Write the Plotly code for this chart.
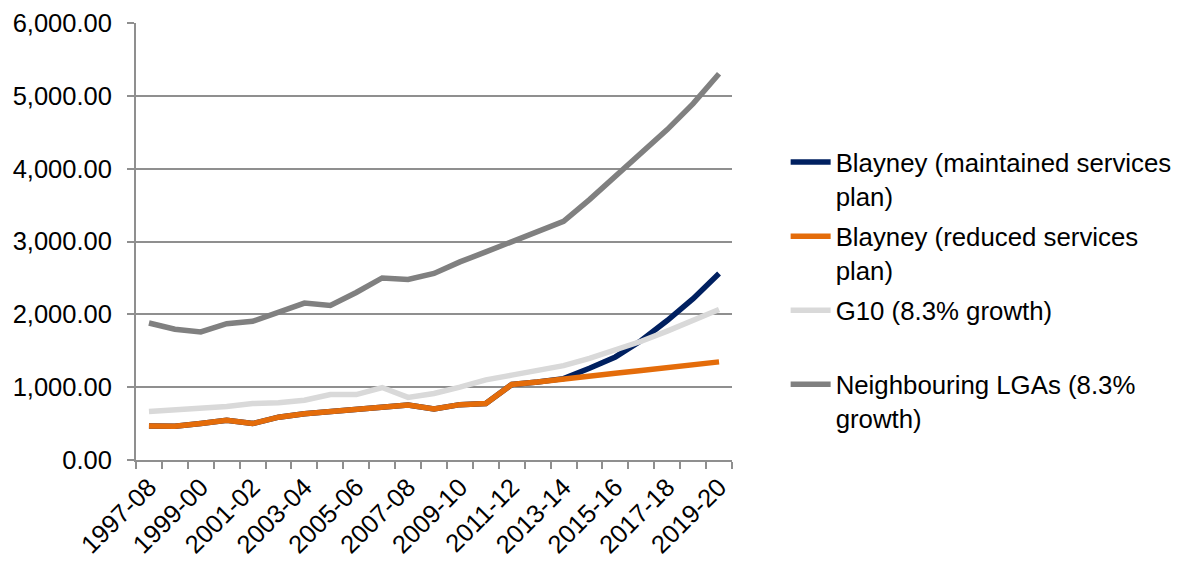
import plotly.graph_objects as go

categories = ["1997-08", "1998-99", "1999-00", "2000-01", "2001-02", "2002-03", "2003-04",
              "2004-05", "2005-06", "2006-07", "2007-08", "2008-09", "2009-10", "2010-11",
              "2011-12", "2012-13", "2013-14", "2014-15", "2015-16", "2016-17", "2017-18",
              "2018-19", "2019-20"]

maintained = [466, 462, 500, 545, 500, 588, 635, 665, 700, 735, 755, 700, 760, 775,
              1037, 1070, 1117, 1260, 1415, 1640, 1915, 2215, 2560]
reduced = [466, 462, 500, 545, 500, 588, 635, 665, 700, 735, 755, 700, 760, 775,
           1037, 1070, 1115, 1153, 1192, 1230, 1270, 1308, 1347]
g10 = [665, 685, 705, 735, 775, 785, 820, 900, 898, 995, 860, 913, 1000, 1100,
       1165, 1230, 1295, 1395, 1509, 1630, 1770, 1912, 2066]
neighbouring = [1881, 1795, 1758, 1872, 1904, 2032, 2155, 2123, 2300, 2500, 2478, 2561,
                2720, 2857, 3004, 3141, 3278, 3576, 3896, 4215, 4536, 4893, 5304]

series = [
    ("Blayney (maintained services<br>plan)", maintained, "#002060"),
    ("Blayney (reduced services<br>plan)", reduced, "#E46C0A"),
    ("G10 (8.3% growth)<br> ", g10, "#D9D9D9"),
    ("Neighbouring LGAs (8.3%<br>growth)", neighbouring, "#808080"),
]

idx = list(range(len(categories)))
fig = go.Figure()
for k, (name, vals, col) in enumerate(series):
    fig.add_trace(go.Scatter(x=idx, y=vals, name=name, mode="lines",
                             legendgroup=f"g{k}",
                             line=dict(color=col, width=5.5)))

FONT = "Liberation Sans, Arial, sans-serif"
axis_col = "#8f8f8f"

fig.update_layout(
    width=1197, height=561,
    margin=dict(l=136, r=465, t=23, b=101),
    paper_bgcolor="white", plot_bgcolor="white",
    font=dict(family=FONT, size=25, color="#000000"),
    showlegend=True,
    legend=dict(x=1.09, y=0.735, xanchor="left", yanchor="top",
                valign="top", font=dict(size=25.8, family=FONT),
                bgcolor="rgba(0,0,0,0)", itemwidth=40, tracegroupgap=4,
                borderwidth=0),
    xaxis=dict(
        range=[-0.5, len(categories) - 0.5],
        tickmode="array",
        tickvals=idx[::2],
        ticktext=categories[::2],
        tickangle=-45,
        ticks="", showgrid=False, zeroline=False,
        showline=True, linecolor=axis_col, linewidth=2,
        minor=dict(ticks="outside", tickmode="linear", tick0=-0.5, dtick=1,
                   ticklen=7, tickwidth=2, tickcolor=axis_col, showgrid=False),
        tickfont=dict(size=25.5, family=FONT),
        automargin=False,
    ),
    yaxis=dict(
        range=[0, 6000], dtick=1000, tick0=0,
        tickformat=",.2f",
        showgrid=True, gridcolor=axis_col, gridwidth=2,
        zeroline=False,
        showline=True, linecolor=axis_col, linewidth=2,
        ticks="outside", ticklen=7, tickwidth=2, tickcolor=axis_col,
        ticklabelstandoff=10,
        tickfont=dict(size=25.5, family=FONT),
        automargin=False,
    ),
)

fig.write_html("out.html")
